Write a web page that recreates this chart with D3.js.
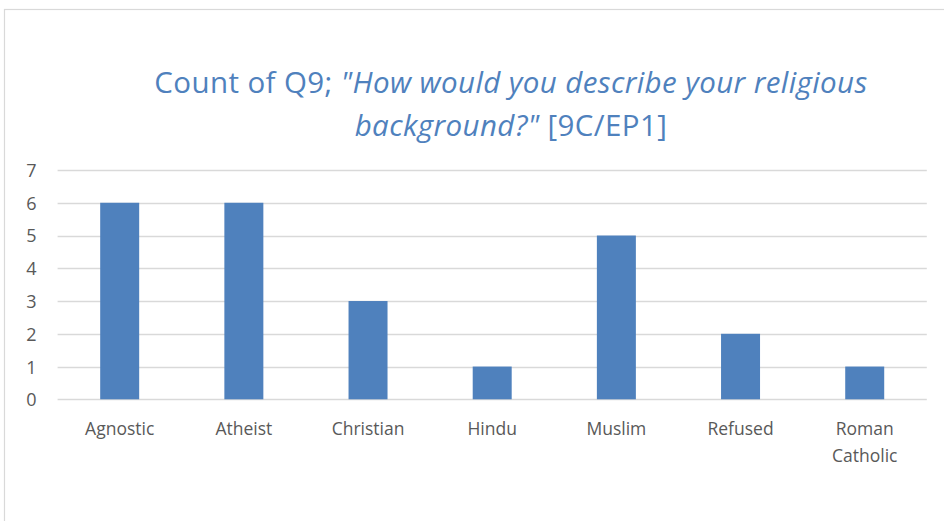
<!DOCTYPE html>
<html>
<head>
<meta charset="utf-8">
<script src="https://cdn.jsdelivr.net/npm/d3@7"></script>
<style>
  html, body { margin: 0; padding: 0; background: #ffffff; }
  svg { display: block; }
</style>
</head>
<body>
<svg id="chart" width="944" height="521"></svg>
<script>
// Survey answers and their counts
const categories = ["Agnostic", "Atheist", "Christian", "Hindu", "Muslim", "Refused", "Roman Catholic"];
const counts = [6, 6, 3, 1, 5, 2, 1];
const yTicks = [0, 1, 2, 3, 4, 5, 6, 7];
const titleLine1 = ["Count of Q9; ", "\"How would you describe your religious"];
const titleLine2 = ["background?\"", " [9C/EP1]"];

const svg = d3.select("#chart");
const font = "'Open Sans', 'Noto Sans', sans-serif";

// chart frame
svg.append("rect")
  .attr("x", 4.5).attr("y", 9.5)
  .attr("width", 960).attr("height", 540)
  .attr("fill", "#ffffff")
  .attr("stroke", "#d9d9d9").attr("stroke-width", 1.2);

const plot = { left: 57.6, right: 926.8, top: 170, bottom: 399.3 };

const x = d3.scaleBand()
  .domain(categories)
  .range([plot.left, plot.right])
  .paddingInner(0.686)
  .paddingOuter(0.343);

const y = d3.scaleLinear()
  .domain([0, 7])
  .range([plot.bottom, plot.top]);

// horizontal gridlines
svg.append("g")
  .selectAll("line")
  .data(yTicks)
  .join("line")
  .attr("x1", plot.left).attr("x2", plot.right)
  .attr("y1", d => Math.round(y(d)) + 0.5)
  .attr("y2", d => Math.round(y(d)) + 0.5)
  .attr("stroke", "#d9d9d9").attr("stroke-width", 1.3);

// bars
svg.append("g")
  .selectAll("rect")
  .data(categories.map((c, i) => ({ c, v: counts[i] })))
  .join("rect")
  .attr("x", d => x(d.c))
  .attr("width", x.bandwidth())
  .attr("y", d => y(d.v))
  .attr("height", d => y(0) - y(d.v))
  .attr("fill", "#4f81bd");

// y-axis labels
const yAxis = svg.append("g")
  .attr("transform", `translate(${plot.left - 21},0)`)
  .call(d3.axisLeft(y).tickValues(yTicks).tickFormat(d3.format("d")).tickSize(0).tickPadding(0));
yAxis.select(".domain").remove();
yAxis.selectAll("text")
  .attr("font-family", font).attr("font-size", 18)
  .attr("fill", "#595959")
  .attr("dy", "0.36em");

// x-axis labels (wrapped onto two lines where needed)
const xAxis = svg.append("g")
  .attr("transform", `translate(0,${plot.bottom})`)
  .call(d3.axisBottom(x).tickSize(0).tickPadding(0));
xAxis.select(".domain").remove();
xAxis.selectAll("text").each(function (d) {
  const t = d3.select(this);
  t.text(null)
    .attr("font-family", font).attr("font-size", 17.5)
    .attr("fill", "#595959").attr("y", 0).attr("dy", null);
  const words = d === "Roman Catholic" ? ["Roman", "Catholic"] : [d];
  words.forEach((w, i) => {
    t.append("tspan").attr("x", 0).attr("y", 36 + i * 27).text(w);
  });
});

// title
const title = svg.append("text")
  .attr("x", 511).attr("y", 93)
  .attr("text-anchor", "middle")
  .attr("font-family", font).attr("font-size", 29.5)
  .attr("letter-spacing", 0.4)
  .attr("fill", "#4f81bd");
title.append("tspan").text(titleLine1[0]);
title.append("tspan").attr("font-style", "italic").text(titleLine1[1]);

const title2 = svg.append("text")
  .attr("x", 511).attr("y", 136)
  .attr("text-anchor", "middle")
  .attr("font-family", font).attr("font-size", 29.5)
  .attr("letter-spacing", 0.4)
  .attr("fill", "#4f81bd");
title2.append("tspan").attr("font-style", "italic").text(titleLine2[0]);
title2.append("tspan").text(titleLine2[1]);
</script>
</body>
</html>
